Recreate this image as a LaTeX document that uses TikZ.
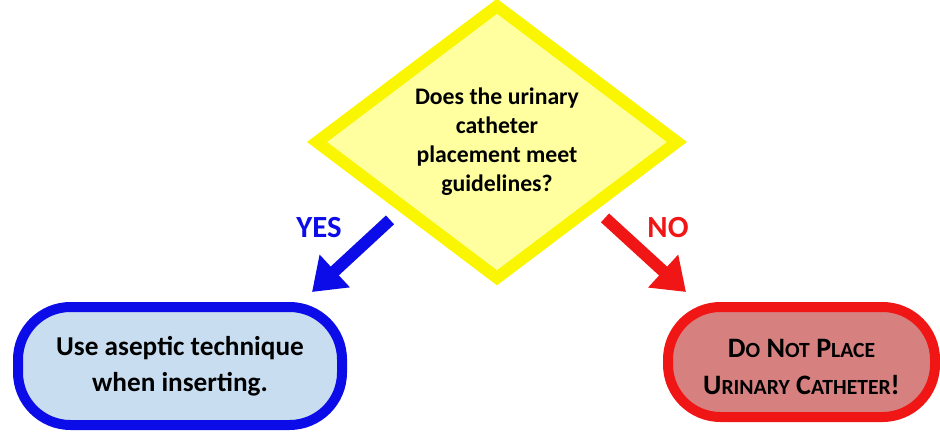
\documentclass[tikz,border=0pt]{standalone}
\usepackage{fontspec}
\setmainfont{Carlito}
\usepackage{xcolor}
\usetikzlibrary{positioning,shapes.geometric,arrows.meta}

\definecolor{decborder}{RGB}{250,245,0}
\definecolor{decfill}{RGB}{255,255,160}
\definecolor{yesblue}{RGB}{12,12,232}
\definecolor{yesfill}{RGB}{200,222,240}
\definecolor{nored}{RGB}{240,22,22}
\definecolor{nofill}{RGB}{214,128,128}

\newcommand{\smc}[1]{{\fontsize{12.3}{15}\selectfont #1}}

\tikzset{
  decision/.style={draw=decborder, fill=decfill, diamond, line width=0.24cm,
    minimum width=7.2cm, minimum height=5.06cm, inner sep=0pt, outer sep=0pt,
    align=center, font=\fontsize{13.5}{16.5}\selectfont\bfseries},
  outcome/.style={rectangle, rounded corners=1.05cm, line width=0.2cm,
    inner sep=0pt, outer sep=0pt, align=center,
    font=\fontsize{15.5}{20.5}\selectfont\bfseries},
  answer/.style={font=\fontsize{17.5}{20}\selectfont\bfseries},
  bigarrow/.style={line width=0.24cm, -{Triangle[width=0.85cm,length=0.62cm]}}
}

\begin{document}
\begin{tikzpicture}
      \useasboundingbox (0,0) rectangle (18.8,8.66);

      % Define the question in the middle
      \node[decision] (dec) at (9.94, 5.82)
        {Does the urinary\\catheter\\placement meet\\guidelines?};

      % Define the two outcomes
      \node[outcome, draw=yesblue, fill=yesfill, minimum width=6.48cm, minimum height=2.36cm]
        (yes) at (3.6, 1.34) {Use aseptic technique\\when inserting.};
      \node[outcome, draw=nored, fill=nofill, minimum width=5.34cm, minimum height=2.2cm]
        (no) at (16.03, 1.42) {};
      \node[font=\fontsize{16}{21.5}\selectfont\bfseries, align=center, yshift=-0.1cm]
        (notext) at (no.center) {D\smc{O} N\smc{OT} P\smc{LACE}\\U\smc{RINARY} C\smc{ATHETER}!};

      % Labels of the answers
      \node[answer, text=yesblue] (yeslbl) at (6.38, 4.1) {YES};
      \node[answer, text=nored] (nolbl) at (13.36, 4.1) {NO};

      % Draw the arrows from the question to the outcomes
      \draw[bigarrow, yesblue] ([shift={(-0.34,-0.2)}]dec.south west) -- ([shift={(-0.6,0.3)}]yes.north east);
      \draw[bigarrow, nored] ([shift={(0.36,-0.16)}]dec.south east) -- ([shift={(0.36,0.3)}]no.north west);
\end{tikzpicture}
\end{document}
